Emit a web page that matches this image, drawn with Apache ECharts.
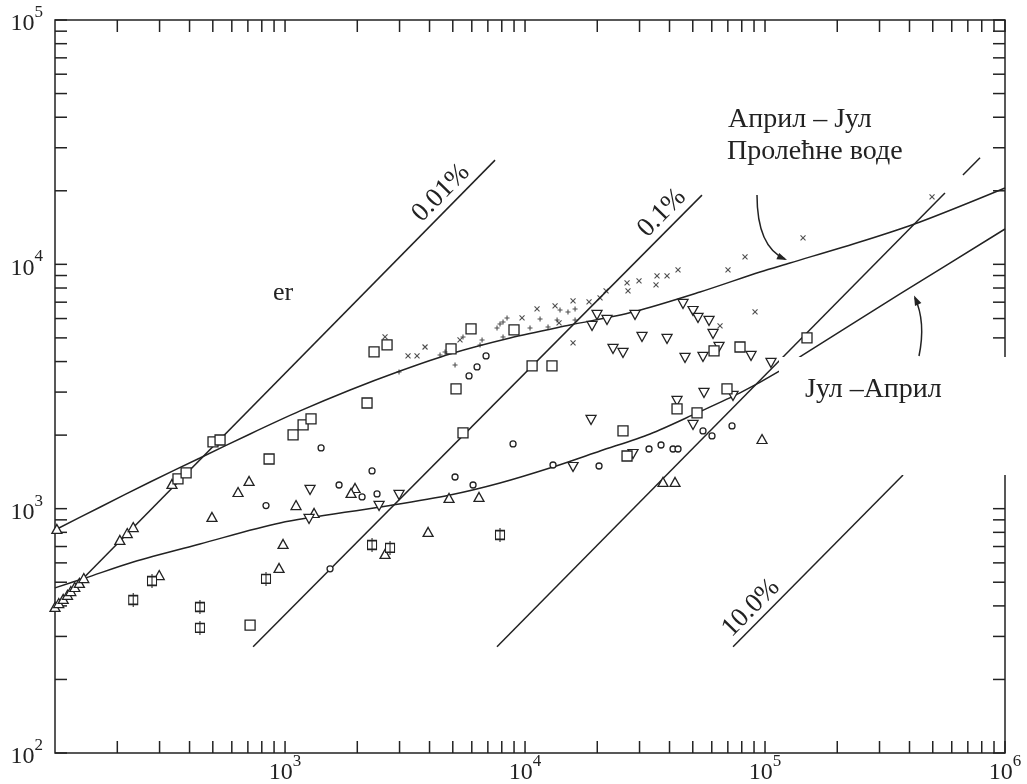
<!DOCTYPE html>
<html>
<head>
<meta charset="utf-8">
<script src="https://cdn.jsdelivr.net/npm/echarts@6.0.0/dist/echarts.min.js"></script>
<style>
html,body{margin:0;padding:0;background:#fff;}
#chart{width:1027px;height:784px;}
</style>
</head>
<body>
<div id="chart"></div>
<script>
var xMin = 110, xMax = 1000000;
var yMin = 100, yMax = 100000;
var xDecades = [100, 1000, 10000, 100000];
var yDecades = [100, 1000, 10000];
var tickSteps = [1, 2, 3, 4, 5, 6, 7, 8, 9];

// fitted curves
var springCurve = [[110,818],[170,1016],[274,1286],[442,1612],[715,2022],[1155,2512],[1866,3061],[3015,3661],[4870,4298],[8660,4996],[15400,5646],[28180,6383],[53600,7706],[95300,9307],[127100,10130],[255900,12460],[442400,14910],[1000000,20540]];
var fallCurve = [[110,474],[147,520],[233,605],[442,717],[953,874],[2488,1016],[4870,1138],[7865,1274],[13080,1481],[20540,1722],[33180,2022],[52080,2465],[78660,2976],[113300,3627],[144000,4256],[365200,7562],[1000000,13950]];

// percentage lines
var line001 = [[110,396],[7500,26700]];
var line01 = [[736,272],[54600,19200]];
var line1 = [[7640,272],[562000,19600]];
var line1Dash = [[668000,23200],[787000,27300]];
var line10 = [[73600,272],[376000,1374]];

// measured points
var triUp = [[110,396],[114,411],[119,427],[124,444],[128,460],[133,478],[139,497],[145,520],
  [205,745],[220,795],[233,841],[338,1262],[496,925],[637,1170],[708,1298],[1111,1035],[1321,960],
  [981,717],[944,572],[299,535],[112,826],[1957,1215],[1884,1160],[4823,1106],[6430,1117],[3945,803],
  [2610,653],[97160,1928],[37580,1286],[42170,1286]];
var triDown = [[1271,1193],[1259,908],[2985,1138],[2465,1026],[15850,1481],[19020,5594],[19950,6208],
  [21960,5919],[28730,6208],[23260,4504],[25600,4337],[30720,5044],[39060,4950],[45530,6886],[50120,6442],
  [52580,6033],[58440,5866],[60730,5188],[64320,4589],[46420,4139],[55150,4178],[87450,4217],[105900,3948],
  [18840,2307],[55680,2976],[73560,2893],[42990,2759],[50120,2201],[28180,1674]];
var squares = [[358,1323],[387,1400],[501,1875],[536,1910],[715,334],[858,1597],[1080,2003],[1189,2201],
  [1283,2329],[2196,2707],[2349,4379],[2661,4677],[4917,4504],[5158,3090],[5515,2041],[5957,5438],[8996,5387],
  [10700,3838],[12950,3838],[25600,2080],[26610,1643],[42990,2559],[52080,2465],[69430,3090],[61320,4420],
  [78660,4589],[149600,4996]];
var barSquares = [[233,423],[442,396],[442,325],[833,516],[2304,710],[2738,691],[7865,780],[279,506]];
var circles = [[833,1030],[1679,1250],[1413,1772],[2304,1427],[2094,1117],[2417,1149],[1540,567],[5109,1348],
  [6073,1250],[8913,1840],[13080,1509],[20340,1495],[5843,3493],[6310,3802],[6879,4217],[32860,1755],
  [36870,1822],[41370,1755],[43400,1755],[55150,2080],[60130,1984],[72860,2180]];
var crosses = [[2610,5044],[3254,4217],[3548,4217],[3831,4589],[5358,4903],[9716,6033],[11220,6566],[13340,6754],
  [13860,5754],[15850,7080],[15850,4767],[18480,7015],[20540,7285],[21760,7780],[26610,8391],[26860,7780],
  [29850,8551],[35480,8964],[35140,8234],[39060,8964],[43400,9484],[70100,9484],[82540,10720],[90870,6383],
  [64940,5594],[144000,12820],[496500,18870]];
var pluses = [[2985,3627],[4424,4256],[4642,4379],[5109,3875],[5515,5044],[6621,4903],[6494,4677],[7643,5490],
  [7865,5702],[8097,5809],[8414,6033],[8097,5044],[10490,5490],[11550,5976],[12470,5542],[13990,6504],
  [13600,5919],[15100,6383],[16160,6566],[16160,5919]];

var ink = '#222';
var serif = '"Liberation Serif", "Times New Roman", serif';

// tick marks on all four sides
var ticks = [];
xDecades.forEach(function (d) {
  tickSteps.forEach(function (k) {
    var v = k * d;
    if (v >= xMin) { ticks.push([v, yMin, 0]); ticks.push([v, yMax, 1]); }
  });
});
ticks.push([xMax, yMin, 0], [xMax, yMax, 1]);
yDecades.forEach(function (d) {
  tickSteps.forEach(function (k) {
    var v = k * d;
    ticks.push([xMin, v, 2]); ticks.push([xMax, v, 3]);
  });
});
ticks.push([xMin, yMax, 2], [xMax, yMax, 3]);

function powLabel(v) {
  var l = Math.log10(v);
  if (Math.abs(l - Math.round(l)) > 1e-6) return '';
  return '{b|10}{s|' + Math.round(l) + '}';
}
var labelRich = {
  b: {fontFamily: serif, fontSize: 24, color: ink, lineHeight: 32, verticalAlign: 'bottom'},
  s: {fontFamily: serif, fontSize: 17, color: ink, lineHeight: 17, verticalAlign: 'top'}
};

function lineSeries(data, smooth) {
  return {type: 'line', data: data, symbol: 'none', smooth: smooth || false, silent: true,
    lineStyle: {color: ink, width: 1.5}, z: 2};
}
function dots(data, symbol, size, fill, extra) {
  var s = {type: 'scatter', data: data, symbol: symbol, symbolSize: size, silent: true, z: 4,
    itemStyle: {color: fill, borderColor: ink, borderWidth: 1.3, opacity: 1}};
  if (extra) for (var k in extra) s[k] = extra[k];
  return s;
}

var chart = echarts.init(document.getElementById('chart'));
chart.setOption({
  animation: false,
  backgroundColor: '#fff',
  grid: {left: 55, right: 22, top: 20, bottom: 31, show: true, borderColor: ink, borderWidth: 1.5,
    outerBoundsMode: 'none'},
  xAxis: {type: 'log', logBase: 10, min: xMin, max: xMax,
    axisLine: {show: false}, axisTick: {show: false}, splitLine: {show: false}, minorTick: {show: false},
    axisLabel: {formatter: powLabel, rich: labelRich, margin: 0, showMinLabel: true, hideOverlap: false}},
  yAxis: {type: 'log', logBase: 10, min: yMin, max: yMax,
    axisLine: {show: false}, axisTick: {show: false}, splitLine: {show: false}, minorTick: {show: false},
    axisLabel: {formatter: powLabel, rich: labelRich, margin: 12, hideOverlap: false}},
  series: [
    {type: 'custom', data: ticks, silent: true, clip: false, z: 3,
      renderItem: function (params, api) {
        var p = api.coord([api.value(0), api.value(1)]);
        var dir = api.value(2), L = 12, dx = 0, dy = 0;
        if (dir === 0) dy = -L; else if (dir === 1) dy = L; else if (dir === 2) dx = L; else dx = -L;
        return {type: 'line', shape: {x1: p[0], y1: p[1], x2: p[0] + dx, y2: p[1] + dy},
          style: {stroke: ink, lineWidth: 1.5}};
      }},
    lineSeries(line001), lineSeries(line01), lineSeries(line1), lineSeries(line1Dash), lineSeries(line10),
    lineSeries(springCurve, 0.3), lineSeries(fallCurve, 0.3),
    dots(triUp, 'triangle', [10, 9], '#fff'),
    dots(triDown, 'triangle', [10, 9], '#fff', {symbolRotate: 180}),
    dots(squares, 'rect', 10, '#fff'),
    dots(barSquares, 'path://M0,3H10V13H0Z M5,0V16', [9, 14], '#fff'),
    dots(circles, 'circle', 6, '#fff'),
    dots(crosses, 'path://M0,0L10,10M10,0L0,10', 5, 'transparent', {itemStyle: {color: 'transparent', borderColor: ink, borderWidth: 1.1}}),
    dots(pluses, 'path://M5,0L5,10M0,5L10,5', 5, 'transparent', {itemStyle: {color: 'transparent', borderColor: ink, borderWidth: 1.1}})
  ],
  graphic: [
    {type: 'rect', z: 100, silent: true, shape: {x: 779, y: 357, width: 248, height: 118}, style: {fill: '#fff'}},
    {type: 'text', z: 110, x: 728, y: 120, style: {text: 'Април – Јул', font: '28px ' + serif, fill: ink,
      align: 'left', verticalAlign: 'middle', textAlign: 'left', textVerticalAlign: 'middle'}},
    {type: 'text', z: 110, x: 727, y: 152, style: {text: 'Пролећне воде', font: '28px ' + serif, fill: ink,
      align: 'left', verticalAlign: 'middle', textAlign: 'left', textVerticalAlign: 'middle'}},
    {type: 'text', z: 110, x: 805, y: 390, style: {text: 'Јул –Април', font: '28px ' + serif, fill: ink,
      align: 'left', verticalAlign: 'middle', textAlign: 'left', textVerticalAlign: 'middle'}},
    {type: 'text', z: 110, x: 273, y: 293, style: {text: 'er', font: '26px ' + serif, fill: ink,
      align: 'left', verticalAlign: 'middle', textAlign: 'left', textVerticalAlign: 'middle'}},
    {type: 'text', z: 110, x: 441, y: 193, rotation: 0.794, style: {text: '0.01%', font: '27px ' + serif, fill: ink,
      align: 'center', verticalAlign: 'middle', textAlign: 'center', textVerticalAlign: 'middle'}},
    {type: 'text', z: 110, x: 662, y: 213, rotation: 0.794, style: {text: '0.1%', font: '27px ' + serif, fill: ink,
      align: 'center', verticalAlign: 'middle', textAlign: 'center', textVerticalAlign: 'middle'}},
    {type: 'text', z: 110, x: 751, y: 608, rotation: 0.794, style: {text: '10.0%', font: '27px ' + serif, fill: ink,
      align: 'center', verticalAlign: 'middle', textAlign: 'center', textVerticalAlign: 'middle'}},
    {type: 'bezierCurve', z: 110, shape: {x1: 757, y1: 195, x2: 785, y2: 259, cpx1: 757, cpy1: 247},
      style: {stroke: ink, lineWidth: 1.5, fill: null}},
    {type: 'polygon', z: 110, shape: {points: [[787, 260], [776.4, 259.3], [779.2, 252.9]]}, style: {fill: ink}},
    {type: 'bezierCurve', z: 110, shape: {x1: 919, y1: 356, x2: 915, y2: 298, cpx1: 926, cpy1: 322},
      style: {stroke: ink, lineWidth: 1.5, fill: null}},
    {type: 'polygon', z: 110, shape: {points: [[914, 295.5], [921.4, 303.1], [915, 306.1]]}, style: {fill: ink}}
  ]
});
</script>
</body>
</html>
